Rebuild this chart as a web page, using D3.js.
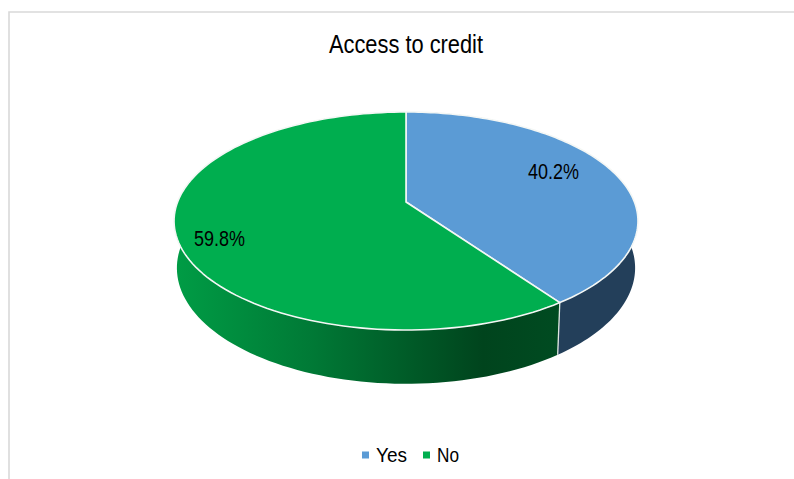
<!DOCTYPE html>
<html>
<head>
<meta charset="utf-8">
<script src="https://cdn.jsdelivr.net/npm/d3@7"></script>
<style>
  html, body { margin: 0; padding: 0; background: #fff; }
  svg { display: block; }
  text { font-family: "Liberation Sans", Arial, sans-serif; fill: #000; }
</style>
</head>
<body>
<svg id="chart" width="794" height="479"></svg>
<script>
const categories = ['Yes', 'No'];
const shares = [40.2, 59.8];
const labels = ['40.2%', '59.8%'];
const topColors = ['#5b9bd5', '#00ae4f'];
const title = 'Access to credit';

const svg = d3.select('#chart');

// pie is tilted with perspective, so the apex is not the ellipse centre
const cx = 406, cy = 202, spreadX = 228.4, spreadY = 70.5, persp = -0.1743;
const depthY = 49, depthW = 0.012;

function project(angle, level) {
  const u = Math.sin(angle), v = -Math.cos(angle);
  const w = 1 + persp * v + depthW * level;
  return [cx + spreadX * u / w, (spreadY * v + cy + depthY * level) / w];
}

const pie = d3.pie().sort(null)(shares);

function arcPoints(a0, a1, level) {
  return d3.range(0, 121).map(i => project(a0 + (a1 - a0) * i / 120, level));
}

const line = d3.line();

// frame
svg.append('path')
  .attr('d', line([[9, 479], [9, 12], [794, 12]]))
  .attr('fill', 'none')
  .attr('stroke', '#d9d9d9')
  .attr('stroke-width', 1.6);

// wall shading
const grad = svg.append('defs').append('linearGradient')
  .attr('id', 'wallGreen')
  .attr('gradientUnits', 'userSpaceOnUse')
  .attr('x1', 175).attr('x2', 560).attr('y1', 0).attr('y2', 0);
[[0, '#009c45'], [0.35, '#007a36'], [0.8, '#00441d'], [1, '#004b21']].forEach(s => {
  grad.append('stop').attr('offset', s[0]).attr('stop-color', s[1]);
});
const wallFills = ['#233f5a', 'url(#wallGreen)'];

svg.append('g').selectAll('path')
  .data(pie)
  .join('path')
  .attr('d', d => line(arcPoints(d.startAngle, d.endAngle, 0)
    .concat(arcPoints(d.endAngle, d.startAngle, 1))) + 'Z')
  .attr('fill', (d, i) => wallFills[i]);

// seam between the two walls
svg.append('path')
  .attr('d', line([project(pie[0].endAngle, 0), project(pie[0].endAngle, 1)]))
  .attr('stroke', '#dfe6e2')
  .attr('stroke-width', 1.3);

// top face
svg.append('g').selectAll('path')
  .data(pie)
  .join('path')
  .attr('d', d => line([[cx, cy]].concat(arcPoints(d.startAngle, d.endAngle, 0))) + 'Z')
  .attr('fill', (d, i) => topColors[i])
  .attr('stroke', '#f4f7f5')
  .attr('stroke-width', 1.6)
  .attr('stroke-linejoin', 'round');

// title and data labels: the original type is tall and condensed
svg.append('text')
  .attr('x', 329).attr('y', 53)
  .attr('font-size', 26.5)
  .attr('textLength', 154)
  .attr('lengthAdjust', 'spacingAndGlyphs')
  .text(title);

const labelPos = [[528, 179], [194, 246]];
svg.append('g').selectAll('text')
  .data(labels)
  .join('text')
  .attr('x', (d, i) => labelPos[i][0])
  .attr('y', (d, i) => labelPos[i][1])
  .attr('font-size', 21.5)
  .attr('textLength', 51)
  .attr('lengthAdjust', 'spacingAndGlyphs')
  .text(d => d);

// legend
const legendX = [[362, 376, 31], [423, 437, 22]];
const legend = svg.append('g').selectAll('g')
  .data(categories)
  .join('g');
legend.append('rect')
  .attr('x', (d, i) => legendX[i][0])
  .attr('y', 451.5)
  .attr('width', 7).attr('height', 7)
  .attr('fill', (d, i) => topColors[i]);
legend.append('text')
  .attr('x', (d, i) => legendX[i][1])
  .attr('y', 461.5)
  .attr('font-size', 21)
  .attr('textLength', (d, i) => legendX[i][2])
  .attr('lengthAdjust', 'spacingAndGlyphs')
  .text(d => d);
</script>
</body>
</html>
